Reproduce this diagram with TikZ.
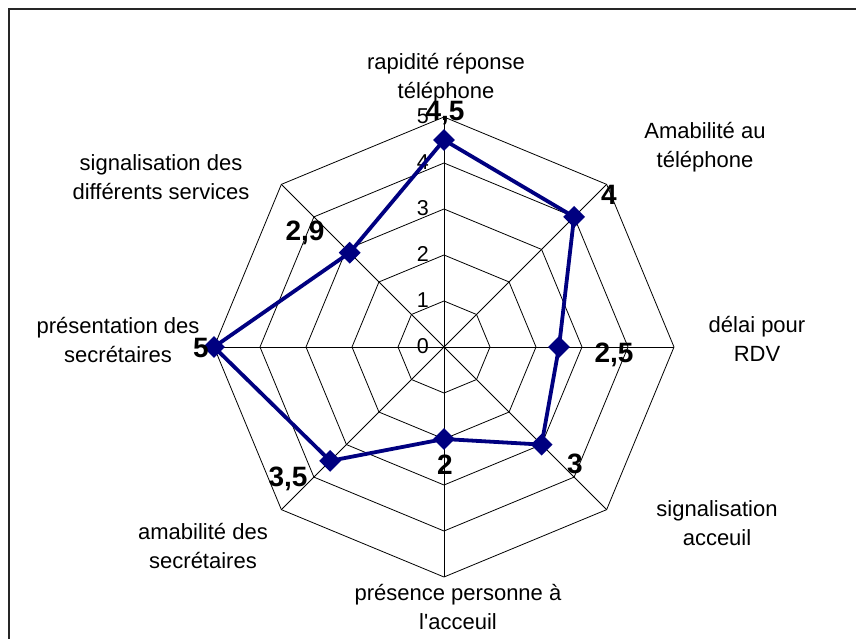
\documentclass[tikz,border=0pt]{standalone}
\usepackage{fontspec}
\setmainfont{Liberation Sans}
\newfontfamily\rawfont{Liberation Sans}
\usetikzlibrary{calc,shapes.geometric}
\definecolor{navy}{RGB}{0,0,128}
\begin{document}
\begin{tikzpicture}[x=1pt,y=-1pt,
  frameline/.style={draw=black!85, line width=2pt},
  grid/.style={draw=black, line width=0.8pt},
  lbl/.style={font=\fontsize{22}{29}\selectfont, align=center, inner sep=0pt},
  tick/.style={font=\fontsize{21.5}{24}\selectfont, anchor=east, inner sep=0pt},
  val/.style={font=\fontsize{28}{30}\selectfont\bfseries, inner sep=0pt},
  series/.style={draw=navy, line width=3.8pt, line join=miter},
  mk/.style={diamond, fill=navy, draw=none, inner sep=0pt, minimum size=22pt}]
\useasboundingbox (0,0) rectangle (856,639);
\coordinate (C) at (444,347);
\coordinate (FTR) at (857,9);
\coordinate (FTL) at (9,9);
\coordinate (FBL) at (9,640);
\draw[frameline] (FTR) -- (FTL) -- (FBL);
% rings
\foreach \r in {1,...,5}{
  \pgfmathsetmacro{\R}{46*\r}
  \draw[grid] ($(C)+(-90:\R)$) \foreach \i in {1,...,7}{ -- ($(C)+({-90+45*\i}:\R)$) } -- cycle;
}
% spokes
\foreach \i in {0,...,7}{
  \coordinate (A\i) at ($(C)+({-90+45*\i}:230)$);
  \draw[grid] (C) -- (A\i);
}
% tick labels
\foreach \k in {0,...,5}{
  \node[tick] (t\k) at (429,{346-46*\k}) {\k};
}
% series
\foreach \i/\v in {0/4.5,1/4,2/2.5,3/3,4/2,5/3.5,6/5,7/2.9}{
  \coordinate (p\i) at ($(C)+({-90+45*\i}:{46*\v})$);
}
\draw[series] (p0) -- (p1) -- (p2) -- (p3) -- (p4) -- (p5) -- (p6) -- (p7) -- cycle;
\foreach \i in {0,...,7}{
  \node[mk] (m\i) at (p\i) {};
}
% value labels
\node[val] (v0) at (445,113) {4,5};
\node[val] (v1) at (609,195) {4};
\node[val] (v2) at (614,355) {2,5};
\node[val] (v3) at (575,464) {3};
\node[val] (v4) at (445,465) {2};
\node[val] (v5) at (288,479) {3,5};
\node[val] (v6) at (201,348) {5};
\node[val] (v7) at (305,233) {2,9};
% category labels
\node[lbl] (c0) at (446,78) {rapidité réponse\\téléphone};
\node[lbl] (c1) at (705,147) {Amabilité au\\téléphone};
\node[lbl] (c2) at (757,339) {délai pour\\RDV};
\node[lbl] (c3) at (717,523) {signalisation\\acceuil};
\node[lbl] (c4) at (458,607) {présence personne à\\{\rawfont l'acceuil}};
\node[lbl] (c5) at (203,546) {amabilité des\\secrétaires};
\node[lbl] (c6) at (118,340) {présentation des\\secrétaires};
\node[lbl] (c7) at (161,177) {signalisation des\\différents services};
\end{tikzpicture}
\end{document}
